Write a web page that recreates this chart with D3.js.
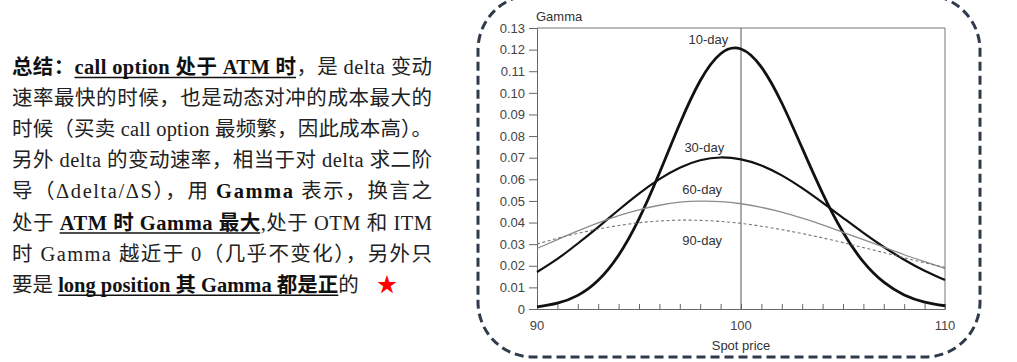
<!DOCTYPE html>
<html>
<head>
<meta charset="utf-8">
<script src="https://cdn.jsdelivr.net/npm/d3@7"></script>
<style>
  html, body { margin: 0; padding: 0; background: #fff; }
  svg { display: block; }
</style>
</head>
<body>
<svg id="chart" width="1017" height="362"></svg>
<script>
// ---- data ----
const spotPrices = [90,91,92,93,94,95,96,97,98,99,100,101,102,103,104,105,106,107,108,109,110];
const gamma10 = [0.0010,0.0027,0.0063,0.0133,0.0249,0.0417,0.0629,0.0857,0.1056,0.1181,0.1203,0.1119,0.0953,0.0744,0.0535,0.0355,0.0218,0.0124,0.0065,0.0032,0.0015];
const gamma30 = [0.0171,0.0232,0.0303,0.0379,0.0458,0.0534,0.0601,0.0654,0.0688,0.0701,0.0692,0.0664,0.0618,0.0559,0.0492,0.0422,0.0352,0.0287,0.0228,0.0177,0.0134];
const gamma60 = [0.0280,0.0321,0.0361,0.0398,0.0432,0.0459,0.0480,0.0494,0.0499,0.0497,0.0487,0.0470,0.0448,0.0420,0.0389,0.0355,0.0321,0.0286,0.0251,0.0219,0.0188];
const gamma90 = [0.0301,0.0327,0.0350,0.0370,0.0386,0.0399,0.0407,0.0411,0.0410,0.0405,0.0396,0.0383,0.0367,0.0349,0.0329,0.0307,0.0284,0.0261,0.0237,0.0214,0.0192];
const seriesNames = ["10-day","30-day","60-day","90-day"];
const seriesLabelAt = [[98.4,0.1226],[98.2,0.0728],[98.1,0.0532],[98.1,0.0296]];
const yTicks = [0,0.01,0.02,0.03,0.04,0.05,0.06,0.07,0.08,0.09,0.10,0.11,0.12,0.13];
const xTicks = [90,91,92,93,94,95,96,97,98,99,100,101,102,103,104,105,106,107,108,109,110];
const xTickLabels = [90,100,110];
const yTitle = "Gamma";
const xTitle = "Spot price";

// ---- left text ----
const textLines = [
  [{t:"总结：", b:1}, {t:"call option 处于 ATM 时", b:1, u:1}, {t:"，是 delta 变动"}],
  [{t:"速率最快的时候，也是动态对冲的成本最大的"}],
  [{t:"时候（买卖 call option 最频繁，因此成本高）。"}],
  [{t:"另外 delta 的变动速率，相当于对 delta 求二阶"}],
  [{t:"导（Δdelta/ΔS），用 "}, {t:"Gamma", b:1}, {t:" 表示，换言之"}],
  [{t:"处于 "}, {t:"ATM 时 Gamma 最大", b:1, u:1}, {t:",处于 OTM 和 ITM"}],
  [{t:"时 Gamma 越近于 0（几乎不变化），另外只"}],
  [{t:"要是 "}, {t:"long position 其 Gamma 都是正", b:1, u:1}, {t:"的"}, {t:"★", red:1}]
];

const svg = d3.select("#chart");

// text block
const tg = svg.append("g")
  .attr("font-family", "'Liberation Serif', 'Noto Sans CJK SC', serif")
  .attr("font-size", 20.5)
  .attr("fill", "#222");
const underlined = [];
textLines.forEach((segs, i) => {
  const t = tg.append("text")
    .attr("x", 12)
    .attr("y", 74 + i * 31.1);
  if (i < 7) t.attr("textLength", 420).attr("lengthAdjust", "spacing");
  segs.forEach(s => {
    const sp = t.append("tspan").text(s.t);
    if (s.b) sp.attr("font-weight", "bold").attr("fill", "#111");
    if (s.u) underlined.push({node: sp.node(), y: 74 + i * 31.1});
    if (s.red) sp.attr("fill", "#ff0000").attr("dx", 18);
  });
});
underlined.forEach(u => {
  const n = u.node, len = n.getNumberOfChars();
  const x0 = n.getStartPositionOfChar(0).x;
  const x1 = n.getEndPositionOfChar(len - 1).x;
  tg.append("line").attr("x1", x0).attr("x2", x1)
    .attr("y1", u.y + 3.5).attr("y2", u.y + 3.5)
    .attr("stroke", "#111").attr("stroke-width", 1.6);
});

// dashed rounded frame
svg.append("rect")
  .attr("x", 478).attr("y", -5)
  .attr("width", 502).attr("height", 362)
  .attr("rx", 55).attr("ry", 55)
  .attr("fill", "none")
  .attr("stroke", "#2f3a4b")
  .attr("stroke-width", 3)
  .attr("stroke-dasharray", "9,5");

// ---- chart ----
const x = d3.scaleLinear().domain([90,110]).range([537,945]);
const y = d3.scaleLinear().domain([0,0.13]).range([309,28]);

const cg = svg.append("g")
  .attr("font-family", "'Liberation Sans', Arial, sans-serif")
  .attr("fill", "#333");

// frame top & right
cg.append("line").attr("x1", x(90)).attr("x2", x(110)).attr("y1", y(0.13)).attr("y2", y(0.13))
  .attr("stroke", "#777").attr("stroke-width", 1);
cg.append("line").attr("x1", x(110)).attr("x2", x(110)).attr("y1", y(0.13)).attr("y2", y(0))
  .attr("stroke", "#777").attr("stroke-width", 1);
// vertical line at 100
cg.append("line").attr("x1", x(100)).attr("x2", x(100)).attr("y1", y(0.13)).attr("y2", y(0))
  .attr("stroke", "#555").attr("stroke-width", 1);

// y axis
const yAxis = d3.axisLeft(y).tickValues(yTicks).tickSize(8).tickPadding(4)
  .tickFormat(d => d === 0 ? "0" : d3.format(".2f")(d));
const yg = cg.append("g").attr("transform", `translate(${x(90)},0)`).call(yAxis);
yg.attr("font-size", 13).attr("font-family", "'Liberation Sans', Arial, sans-serif");
yg.select(".domain").attr("stroke", "#666");
yg.selectAll(".tick line").attr("stroke", "#666");
yg.selectAll(".tick text").attr("fill", "#444");

// x axis (ticks pointing up)
const xAxis = d3.axisBottom(x).tickValues(xTicks).tickSize(-5).tickPadding(0)
  .tickFormat(() => "");
const xg = cg.append("g").attr("transform", `translate(0,${y(0)})`).call(xAxis);
xg.select(".domain").attr("stroke", "#666");
xg.selectAll(".tick line").attr("stroke", "#666");
cg.selectAll(".xlab").data(xTickLabels).enter().append("text")
  .attr("class", "xlab")
  .attr("x", d => x(d)).attr("y", y(0) + 21)
  .attr("text-anchor", "middle").attr("font-size", 13).attr("fill", "#444")
  .text(d => d);

// titles
cg.append("text").attr("x", x(90) - 1).attr("y", 21).attr("font-size", 13).attr("fill", "#333").text(yTitle);
cg.append("text").attr("x", x(100)).attr("y", 350).attr("text-anchor", "middle")
  .attr("font-size", 13).attr("fill", "#333").text(xTitle);

// lines
const series = [
  {vals: gamma10, color: "#111", width: 2.8, dash: null},
  {vals: gamma30, color: "#111", width: 2.2, dash: null},
  {vals: gamma60, color: "#8c8c8c", width: 1.3, dash: null},
  {vals: gamma90, color: "#777", width: 1.1, dash: "3,2.5"}
];
const line = d3.line().x(d => x(d[0])).y(d => y(d[1])).curve(d3.curveNatural);
series.forEach(s => {
  cg.append("path")
    .datum(spotPrices.map((p, i) => [p, s.vals[i]]))
    .attr("d", line)
    .attr("fill", "none")
    .attr("stroke", s.color)
    .attr("stroke-width", s.width)
    .attr("stroke-dasharray", s.dash);
});

// series labels
cg.selectAll(".slab").data(seriesNames).enter().append("text")
  .attr("class", "slab")
  .attr("x", (d, i) => x(seriesLabelAt[i][0]))
  .attr("y", (d, i) => y(seriesLabelAt[i][1]))
  .attr("text-anchor", "middle").attr("font-size", 13).attr("fill", "#333")
  .text(d => d);
</script>
</body>
</html>
